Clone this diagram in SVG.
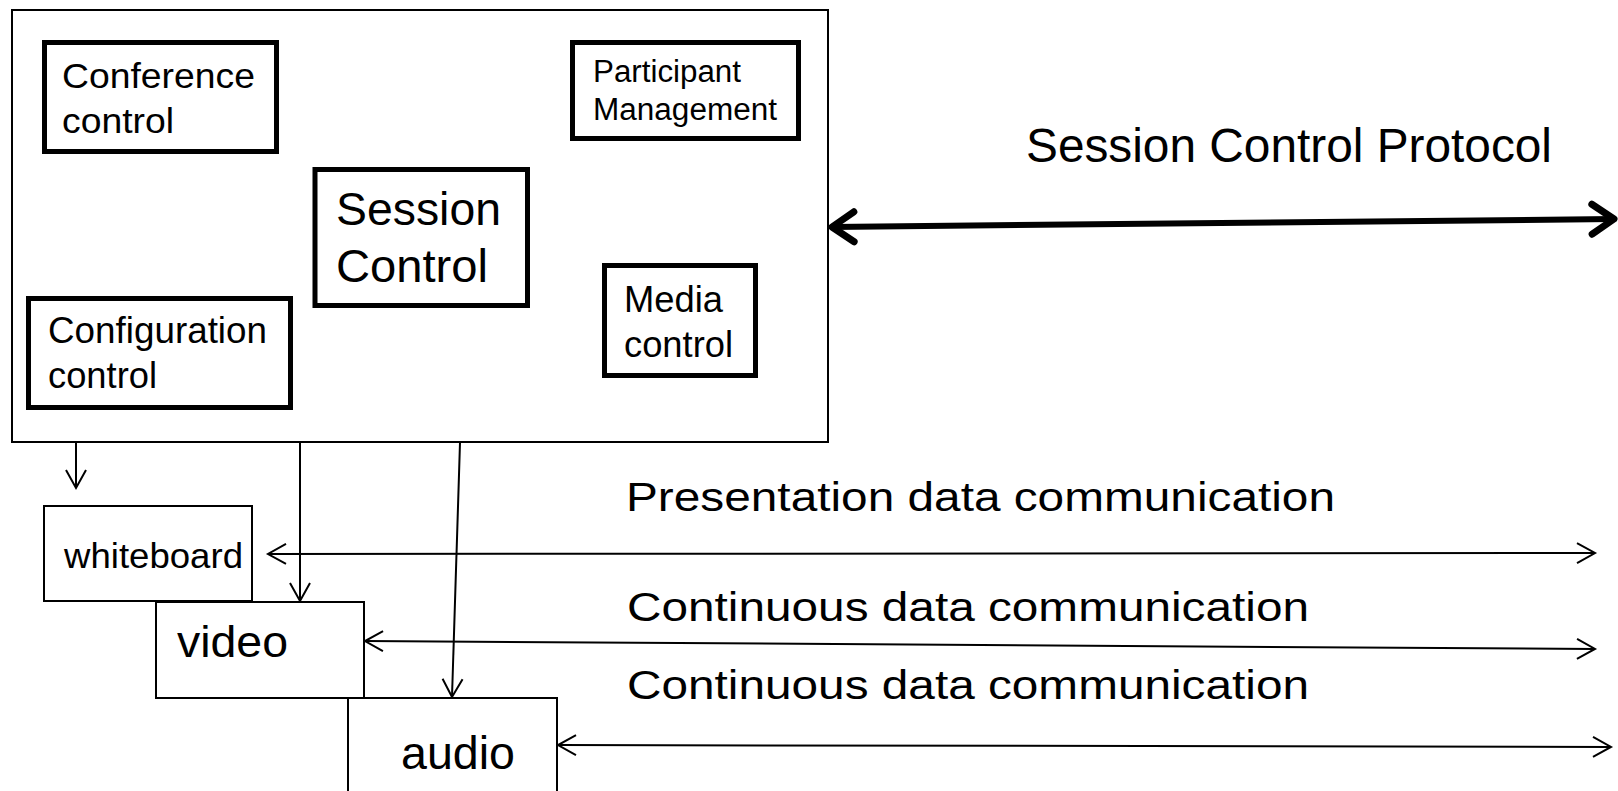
<svg xmlns="http://www.w3.org/2000/svg" width="1618" height="791" viewBox="0 0 1618 791">
<style>
text{font-family:"Liberation Sans",Arial,sans-serif;fill:#000}
.outer{fill:#fff;stroke:#000;stroke-width:2}
.thick{fill:#fff;stroke:#000;stroke-width:5}
.box{fill:#fff;stroke:#000;stroke-width:2}
.conn{fill:none;stroke:#000;stroke-width:2}
.big{fill:none;stroke:#000;stroke-width:6}
</style>
<defs>
<marker id="ah" markerUnits="userSpaceOnUse" orient="auto-start-reverse" refX="0" refY="0" markerWidth="20" markerHeight="20" overflow="visible">
<path d="M -18 -10 L 0 0 L -18 10" fill="none" stroke="#000" stroke-width="2"/>
</marker>
<marker id="bigah" markerUnits="userSpaceOnUse" orient="auto-start-reverse" refX="0" refY="0" markerWidth="30" markerHeight="30" overflow="visible">
<path d="M -22 -15 L 0 0 L -22 15" fill="none" stroke="#000" stroke-width="7" stroke-linecap="round" stroke-linejoin="round"/>
</marker>
</defs>
<g id="session-block">
<rect class="outer" x="12" y="10" width="816" height="432"/>
</g>
<g id="conference-control">
<rect class="thick" x="44.5" y="42.5" width="232" height="109"/>
<text x="62" y="88" font-size="35" textLength="193" lengthAdjust="spacingAndGlyphs">Conference</text>
<text x="62" y="133" font-size="35" textLength="112" lengthAdjust="spacingAndGlyphs">control</text>
</g>
<g id="participant-management">
<rect class="thick" x="572.5" y="42.5" width="226" height="96"/>
<text x="593" y="82" font-size="31" textLength="148" lengthAdjust="spacingAndGlyphs">Participant</text>
<text x="593" y="120" font-size="31" textLength="184" lengthAdjust="spacingAndGlyphs">Management</text>
</g>
<g id="session-control">
<rect class="thick" x="315" y="169.5" width="212.5" height="136"/>
<text x="336" y="225" font-size="46" textLength="165" lengthAdjust="spacingAndGlyphs">Session</text>
<text x="336" y="282" font-size="46" textLength="152" lengthAdjust="spacingAndGlyphs">Control</text>
</g>
<g id="media-control">
<rect class="thick" x="604.5" y="265.5" width="151" height="110"/>
<text x="624" y="312" font-size="36" textLength="99" lengthAdjust="spacingAndGlyphs">Media</text>
<text x="624" y="357" font-size="36" textLength="109" lengthAdjust="spacingAndGlyphs">control</text>
</g>
<g id="configuration-control">
<rect class="thick" x="28.5" y="298.5" width="262" height="109"/>
<text x="48" y="343" font-size="36" textLength="219" lengthAdjust="spacingAndGlyphs">Configuration</text>
<text x="48" y="388" font-size="36" textLength="109" lengthAdjust="spacingAndGlyphs">control</text>
</g>
<g id="whiteboard">
<rect class="box" x="44" y="506" width="208" height="95"/>
<text x="64" y="568" font-size="35" textLength="179" lengthAdjust="spacingAndGlyphs">whiteboard</text>
</g>
<g id="video">
<rect class="box" x="156" y="602" width="208" height="96"/>
<text x="177" y="657" font-size="45" textLength="111" lengthAdjust="spacingAndGlyphs">video</text>
</g>
<g id="audio">
<rect class="box" x="348" y="698" width="209" height="120"/>
<text x="401" y="769" font-size="46" textLength="114" lengthAdjust="spacingAndGlyphs">audio</text>
</g>
<g id="connectors">
<line class="big" x1="832" y1="227" x2="1614" y2="219" marker-start="url(#bigah)" marker-end="url(#bigah)"/>
<line class="conn" x1="76" y1="443" x2="76" y2="488" marker-end="url(#ah)"/>
<line class="conn" x1="300" y1="443" x2="300" y2="601" marker-end="url(#ah)"/>
<line class="conn" x1="460" y1="443" x2="452" y2="697" marker-end="url(#ah)"/>
<line class="conn" x1="268" y1="554" x2="1595" y2="553" marker-start="url(#ah)" marker-end="url(#ah)"/>
<line class="conn" x1="365" y1="641" x2="1595" y2="649" marker-start="url(#ah)" marker-end="url(#ah)"/>
<line class="conn" x1="558" y1="745" x2="1611" y2="747" marker-start="url(#ah)" marker-end="url(#ah)"/>
</g>
<g id="labels">
<text x="1026" y="162" font-size="48" textLength="526" lengthAdjust="spacingAndGlyphs">Session Control Protocol</text>
<text x="626" y="511" font-size="41" textLength="709" lengthAdjust="spacingAndGlyphs">Presentation data communication</text>
<text x="627" y="621" font-size="41" textLength="682" lengthAdjust="spacingAndGlyphs">Continuous data communication</text>
<text x="627" y="699" font-size="41" textLength="682" lengthAdjust="spacingAndGlyphs">Continuous data communication</text>
</g>
</svg>
